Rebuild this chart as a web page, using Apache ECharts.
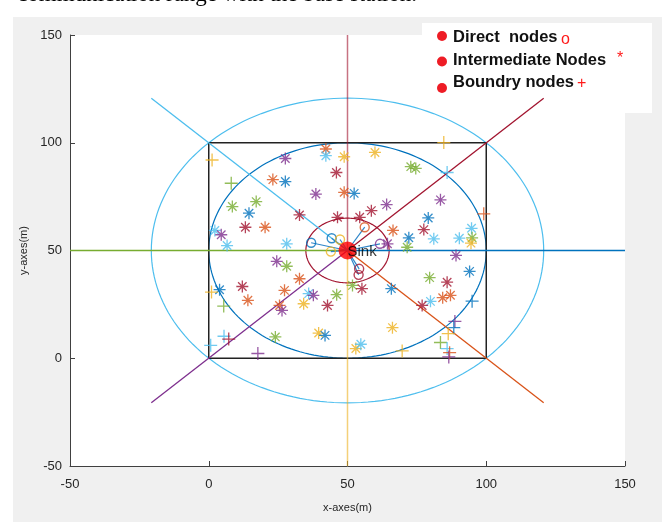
<!DOCTYPE html>
<html>
<head>
<meta charset="utf-8">
<script src="https://cdn.jsdelivr.net/npm/echarts@6/dist/echarts.min.js"></script>
<style>
  html, body { margin: 0; padding: 0; background: #fff; }
  #frame { position: absolute; left: 13px; top: 17px; width: 649px; height: 505px; background: #f0f0f0; }
  #chart { position: absolute; left: 0; top: 0; width: 662px; height: 522px; }
</style>
</head>
<body>
<div id="frame"></div>
<div id="chart"></div>
<script>
// MATLAB-style colour order, indexed by the third field of each node
const palette = ['#0072BD', '#D95319', '#EDB120', '#7E2F8E', '#77AC30', '#4DBEEE', '#A2142F'];

// axis range and tick step (metres)
const axisMin = -50;
const axisMax = 150;
const tickStep = 50;

// base station
const sink = [50, 50];

// deployment field boundary
const fieldSquare = [[0, 0], [100, 0], [100, 100], [0, 100], [0, 0]];

// range rings around the sink: [radius, colour]
const rangeRings = [[15, 6], [50, 0], [70.7, 5]];

// sector dividers from the sink: [end x, end y, colour]
const rays = [
  [150, 50, 0], [120.7, 120.7, 6], [50, 150, 6], [-20.7, 120.7, 5],
  [-50, 50, 4], [-20.7, -20.7, 3], [50, -50, 2], [120.7, -20.7, 1]
];

// nodes that talk to the sink directly: [x, y, colour]
const directNodes = [
  [36.9, 53.6, 0], [44.3, 55.7, 0], [47.3, 55.1, 2], [44.0, 49.5, 2],
  [56.2, 60.8, 1], [61.7, 53.1, 3], [54.2, 41.5, 6], [54.0, 38.7, 6]
];

// relay nodes: [x, y, colour]
const intermediateNodes = [
  [42.2, 97.1, 1], [42.2, 94.0, 5], [48.8, 93.5, 2], [27.6, 92.7, 3],
  [23.1, 82.9, 1], [27.6, 82.0, 0], [46.0, 86.2, 6], [48.8, 77.0, 1],
  [38.6, 76.2, 3], [8.5, 70.4, 4], [17.1, 72.7, 4], [14.5, 67.3, 0],
  [32.7, 66.5, 6], [46.4, 65.4, 6], [13.2, 60.8, 6], [20.3, 60.8, 1],
  [2.2, 59.3, 5], [4.5, 57.3, 3], [6.6, 52.3, 5], [28.1, 53.1, 5],
  [59.9, 95.5, 2], [72.8, 88.9, 4], [74.6, 88.1, 4], [64.1, 71.3, 3],
  [58.6, 68.5, 6], [54.4, 65.4, 6], [52.4, 76.5, 0], [83.5, 73.5, 3],
  [79.1, 65.1, 0], [77.5, 59.7, 6], [66.4, 59.3, 1], [94.7, 60.3, 5],
  [90.3, 55.7, 5], [94.9, 55.9, 4], [94.5, 53.4, 2], [81.1, 55.4, 5],
  [72.1, 55.9, 0], [64.4, 53.1, 3], [71.5, 51.5, 4],
  [24.5, 45.0, 3], [28.1, 42.7, 4], [12.1, 33.3, 6], [32.7, 36.9, 1],
  [27.3, 31.5, 1], [14.1, 26.9, 1], [3.9, 31.8, 0], [36.0, 30.0, 5],
  [37.7, 29.2, 3], [46.1, 29.5, 4], [34.2, 25.3, 2], [42.8, 24.5, 6],
  [25.5, 24.5, 1], [26.4, 22.2, 3], [24.0, 9.9, 4], [39.6, 11.7, 2],
  [41.9, 10.6, 0],
  [89.1, 47.7, 3], [94.0, 40.3, 0], [79.6, 37.4, 4], [85.9, 35.3, 6],
  [51.8, 33.8, 4], [55.2, 32.3, 6], [65.8, 32.3, 0], [84.3, 28.1, 1],
  [87.1, 29.2, 1], [79.9, 26.4, 5], [76.9, 24.5, 6], [66.2, 14.2, 2],
  [53.0, 4.5, 2], [54.8, 6.5, 5]
];

// nodes on the edge of the field: [x, y, colour]
const boundaryNodes = [
  [1.2, 92.0, 2], [8.1, 81.2, 4], [84.7, 100.1, 2], [85.9, 86.2, 5],
  [99.1, 67.0, 1], [1.0, 30.7, 2], [5.4, 24.2, 4], [5.5, 10.2, 5],
  [7.2, 8.9, 6], [0.7, 6.0, 5], [17.7, 2.2, 3], [94.9, 26.5, 0],
  [88.7, 17.1, 3], [88.3, 14.2, 0], [86.3, 11.4, 2], [83.5, 7.3, 4],
  [85.9, 4.5, 5], [86.8, 2.6, 1], [86.5, 0.6, 3], [69.7, 3.4, 2]
];

const asteriskPath = 'path://M10,0L10,20M0,10L20,10M2.93,2.93L17.07,17.07M2.93,17.07L17.07,2.93';
const plusPath = 'path://M10,0L10,20M0,10L20,10';

function markerItems(list) {
  return list.map(function (p) {
    return { value: [p[0], p[1]], itemStyle: { color: 'none', borderColor: palette[p[2]] } };
  });
}

const axisColor = '#404040';
const labelFont = { color: '#262626', fontSize: 13, fontFamily: 'Liberation Sans' };

function valueAxis(name, extra) {
  return Object.assign({
    type: 'value', min: axisMin, max: axisMax, interval: tickStep,
    name: name, nameLocation: 'middle',
    nameTextStyle: { color: '#262626', fontSize: 11, fontFamily: 'Liberation Sans' },
    axisLine: { show: true, onZero: false, lineStyle: { color: axisColor, width: 1 } },
    axisTick: { show: true, inside: true, length: 5, lineStyle: { color: axisColor } },
    splitLine: { show: false }
  }, extra);
}

const chart = echarts.init(document.getElementById('chart'), null, { renderer: 'canvas' });

chart.setOption({
  animation: false,
  backgroundColor: 'transparent',
  grid: { left: 70, right: 37, top: 35, bottom: 56, show: true, backgroundColor: '#fff', borderWidth: 0 },
  xAxis: valueAxis('x-axes(m)', { nameGap: 36, axisLabel: Object.assign({ margin: 12 }, labelFont) }),
  yAxis: valueAxis('y-axes(m)', { nameGap: 38, axisLabel: Object.assign({ margin: 8 }, labelFont) }),
  series: [
    {
      type: 'custom', name: 'rings', silent: true, z: 2,
      data: rangeRings,
      renderItem: function (params, api) {
        const r = api.value(0);
        const pts = [];
        for (let k = 0; k <= 180; k++) {
          const t = 2 * Math.PI * k / 180;
          pts.push(api.coord([sink[0] + r * Math.cos(t), sink[1] + r * Math.sin(t)]));
        }
        return { type: 'polyline', shape: { points: pts },
          style: { stroke: palette[api.value(1)], lineWidth: 1.2, fill: null } };
      }
    },
    {
      type: 'line', name: 'field', silent: true, z: 3,
      data: fieldSquare, symbol: 'none',
      lineStyle: { color: '#222', width: 1.5 }
    },
    {
      type: 'custom', name: 'rays', silent: true, z: 4,
      data: rays,
      renderItem: function (params, api) {
        const a = api.coord(sink);
        const b = api.coord([api.value(0), api.value(1)]);
        const vertical = api.value(0) === sink[0];
        return { type: 'line', shape: { x1: a[0], y1: a[1], x2: b[0], y2: b[1] },
          style: { stroke: palette[api.value(2)], lineWidth: vertical ? 1.5 : 1.3, opacity: vertical ? 0.6 : 1 } };
      }
    },
    {
      type: 'custom', name: 'links', silent: true, z: 5,
      data: directNodes,
      renderItem: function (params, api) {
        const a = api.coord(sink);
        const b = api.coord([api.value(0), api.value(1)]);
        return { type: 'line', shape: { x1: a[0], y1: a[1], x2: b[0], y2: b[1] },
          style: { stroke: '#2e86c9', lineWidth: 1.2 } };
      }
    },
    {
      type: 'scatter', name: 'Intermediate Nodes', silent: true, z: 6,
      symbol: asteriskPath, symbolSize: 12,
      itemStyle: { borderWidth: 1.3 },
      data: markerItems(intermediateNodes)
    },
    {
      type: 'scatter', name: 'Boundry nodes', silent: true, z: 6,
      symbol: plusPath, symbolSize: 13,
      itemStyle: { borderWidth: 1.3 },
      data: markerItems(boundaryNodes)
    },
    {
      type: 'scatter', name: 'Direct nodes', silent: true, z: 6,
      symbol: 'circle', symbolSize: 9,
      itemStyle: { borderWidth: 1.4 },
      data: markerItems(directNodes)
    },
    {
      type: 'scatter', name: 'Sink', silent: true, z: 7,
      symbol: 'circle', symbolSize: 18,
      itemStyle: { color: '#ff0000' },
      label: {
        show: true, formatter: 'Sink', position: ['50%', '55%'], align: 'left', verticalAlign: 'middle',
        color: '#000', fontSize: 15, fontFamily: 'Liberation Sans'
      },
      data: [sink]
    }
  ],
  graphic: [
    {
      type: 'text', x: 417, y: 6, z: 100, silent: true,
      style: { text: 'communication range with the base station.', font: '23px "Liberation Serif"',
        fill: '#000', align: 'right', verticalAlign: 'bottom' }
    },
    {
      type: 'group', z: 100, silent: true,
      children: [
        { type: 'rect', shape: { x: 422, y: 23, width: 230, height: 90 }, style: { fill: '#fff' } },
        { type: 'circle', shape: { cx: 442, cy: 36, r: 5 }, style: { fill: '#ee1c25' } },
        { type: 'circle', shape: { cx: 442, cy: 61.5, r: 5 }, style: { fill: '#ee1c25' } },
        { type: 'circle', shape: { cx: 442, cy: 88, r: 5 }, style: { fill: '#ee1c25' } },
        { type: 'text', x: 453, y: 37.5, style: { text: 'Direct  nodes', font: 'bold 16.5px "Liberation Sans"', fill: '#111', verticalAlign: 'middle' } },
        { type: 'text', x: 453, y: 60, style: { text: 'Intermediate Nodes', font: 'bold 16.5px "Liberation Sans"', fill: '#111', verticalAlign: 'middle' } },
        { type: 'text', x: 453, y: 82.7, style: { text: 'Boundry nodes', font: 'bold 16.5px "Liberation Sans"', fill: '#111', verticalAlign: 'middle' } },
        { type: 'text', x: 561, y: 39.5, style: { text: 'o', font: '16px "Liberation Sans"', fill: '#ff1a1a', verticalAlign: 'middle' } },
        { type: 'text', x: 617, y: 59, style: { text: '*', font: '16px "Liberation Sans"', fill: '#ff1a1a', verticalAlign: 'middle' } },
        { type: 'text', x: 577, y: 84, style: { text: '+', font: '16px "Liberation Sans"', fill: '#ff1a1a', verticalAlign: 'middle' } }
      ]
    }
  ]
});
</script>
</body>
</html>
